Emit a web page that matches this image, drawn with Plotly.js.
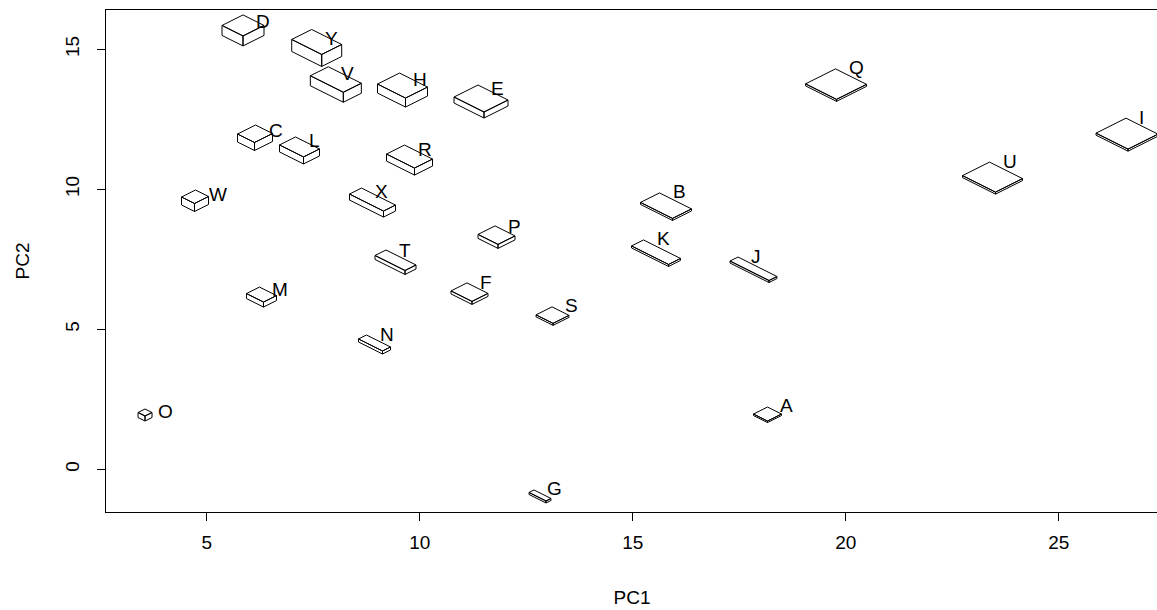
<!DOCTYPE html>
<html>
<head>
<meta charset="utf-8">
<script src="https://cdn.plot.ly/plotly-3.0.1.min.js"></script>
<style>
  html, body { margin: 0; padding: 0; background: #fff; overflow: hidden; }
  #plot { width: 1160px; height: 610px; }
</style>
</head>
<body>
<div id="plot"></div>
<script>
// Observation labels
const labels = ['A','B','C','D','E','F','G','H','I','J','K','L','M',
                'N','O','P','Q','R','S','T','U','V','W','X','Y'];

// Position of each observation on the first two components
const pc1 = [18.164, 15.629, 6.146, 5.852, 11.369, 11.110, 12.683, 9.526, 26.580, 17.472, 15.254, 7.085, 6.239,
             8.751, 3.552, 11.768, 19.761, 9.643, 13.106, 9.209, 23.376, 7.855, 4.737, 8.634, 7.465];
const pc2 = [2.17, 9.80, 12.01, 15.87, 13.51, 6.55, -0.81, 13.83, 12.47, 7.51, 8.12, 11.62, 6.33,
             4.69, 1.975, 8.55, 14.23, 11.33, 5.73, 7.69, 10.90, 14.02, 9.69, 9.83, 15.28];

// Box glyph dimensions: width (front-right edge), depth (front-left edge), height
const boxWidth  = [14, 32, 17, 21, 30, 21, 17, 28, 32, 39, 37, 24, 17,
                   24, 7, 20, 31, 28, 17, 30, 33, 33, 13, 34, 30];
const boxDepth  = [14, 19, 18, 21, 24, 16, 5, 22, 30, 8, 12, 16, 13,
                   8, 7, 17, 30, 18, 16, 11, 27, 18, 14, 12, 20];
const boxHeight = [1.5, 2, 8, 10, 6, 3, 2, 9, 2, 2, 2, 7, 5,
                   3, 5, 4, 2, 7, 2, 4, 2, 10, 8, 6, 12];

const xTicks = [5, 10, 15, 20, 25];
const yTicks = [0, 5, 10, 15];

// Frame geometry
const W = 1160, H = 610;
const margin = {l: 106, r: 2, t: 10, b: 98};
const xRange = [2.636, 27.331];
const yRange = [-1.525, 16.404];
const plotW = W - margin.l - margin.r;
const plotH = H - margin.t - margin.b;
// data units per screen pixel along each axis (glyphs are sized in pixels)
const ux = (xRange[1] - xRange[0]) / plotW;
const uy = (yRange[1] - yRange[0]) / plotH;
const slope = 0.5;   // oblique projection of the two horizontal box edges
const glyphScale = 1;

const font = 'Liberation Sans, Arial, Helvetica, sans-serif';

const traces = [];
for (let i = 0; i < labels.length; i++) {
  const x0 = pc1[i], y0 = pc2[i];
  const w = boxWidth[i] * glyphScale, d = boxDepth[i] * glyphScale, h = boxHeight[i] * glyphScale;
  // vertex in pixel offsets (right, down) from the hidden back-bottom corner
  const pt = (dx, dy) => [x0 + dx * ux, y0 - dy * uy];
  const T  = pt(0, -h);
  const L  = pt(-d, -h + slope * d);
  const R  = pt(w, -h + slope * w);
  const F  = pt(w - d, -h + slope * (w + d));
  const Lb = pt(-d, slope * d);
  const Rb = pt(w, slope * w);
  const Fb = pt(w - d, slope * (w + d));
  const faces = [[L, T, R, F, L], [L, F, Fb, Lb, L], [F, R, Rb, Fb, F]];
  const xs = [], ys = [];
  faces.forEach((f, k) => {
    if (k > 0) { xs.push(null); ys.push(null); }
    f.forEach(p => { xs.push(p[0]); ys.push(p[1]); });
  });
  traces.push({
    type: 'scatter', mode: 'lines', x: xs, y: ys,
    fill: 'toself', fillcolor: '#ffffff',
    line: {color: '#000000', width: 1},
    hoverinfo: 'skip', showlegend: false
  });
}

const annotations = labels.map((lab, i) => ({
  x: pc1[i], y: pc2[i], xref: 'x', yref: 'y',
  text: lab, showarrow: false,
  xanchor: 'left', yanchor: 'middle', xshift: 11, yshift: 3,
  font: {family: font, size: 19, color: '#000'}
}));

const axisCommon = {
  showgrid: false, zeroline: false,
  showline: true, mirror: true, linecolor: '#000', linewidth: 1,
  ticks: 'outside', ticklen: 8, tickcolor: '#000', tickwidth: 1,
  tickfont: {family: font, size: 19, color: '#000'},
  fixedrange: true
};

const layout = {
  width: W, height: H,
  margin: margin,
  paper_bgcolor: '#fff', plot_bgcolor: '#fff',
  showlegend: false,
  xaxis: Object.assign({}, axisCommon, {
    range: xRange, tickmode: 'array', tickvals: xTicks,
    ticklabelstandoff: 5,
    title: {text: 'PC1', font: {family: font, size: 19, color: '#000'}, standoff: 38}
  }),
  yaxis: Object.assign({}, axisCommon, {
    range: yRange, tickmode: 'array', tickvals: yTicks, tickangle: -90,
    ticklabelstandoff: 10,
    title: {text: 'PC2', font: {family: font, size: 19, color: '#000'}, standoff: 27}
  }),
  annotations: annotations
};

Plotly.newPlot('plot', traces, layout, {displayModeBar: false, staticPlot: true});
</script>
</body>
</html>
